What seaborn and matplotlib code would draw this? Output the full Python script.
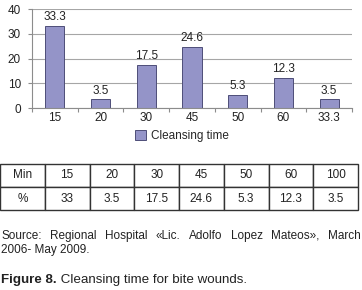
import numpy as np
import pandas as pd
import matplotlib
matplotlib.use("Agg")
import matplotlib.pyplot as plt
import seaborn as sns
from matplotlib.patches import Patch

# данные
categories = ['15', '20', '30', '45', '50', '60', '33.3']
values = [33.3, 3.5, 17.5, 24.6, 5.3, 12.3, 3.5]
table_min = ['15', '20', '30', '45', '50', '60', '100']
table_pct = ['33', '3.5', '17.5', '24.6', '5.3', '12.3', '3.5']
source_words = ['Source:', 'Regional', 'Hospital', '\u00abLic.', 'Adolfo',
                'Lopez', 'Mateos\u00bb,', 'March']

sns.set_theme(style="white")
plt.rcParams['font.family'] = ['Liberation Sans', 'DejaVu Sans']

bar_color = '#9494C8'
edge_color = '#4E4E78'
grid_color = '#A6A6A6'

fig = plt.figure(figsize=(3.62, 2.90), dpi=100)
ax = fig.add_axes([32/362, 1 - 108/290, 320/362, 99/290])

df = pd.DataFrame({'time': categories, 'pct': values})
sns.barplot(data=df, x='time', y='pct', order=categories, color=bar_color,
            edgecolor=edge_color, linewidth=0.7, width=0.42, ax=ax,
            saturation=1)

for p, v in zip(ax.patches, values):
    ax.annotate(f"{v}", (p.get_x() + p.get_width() / 2, p.get_height()),
                xytext=(0, 2), textcoords='offset points',
                ha='center', va='bottom', fontsize=8.5, color='#222222')

ax.set_ylim(0, 40)
ax.set_xlim(-0.5, len(categories) - 0.5)
ax.set_yticks([0, 10, 20, 30, 40])
ax.yaxis.grid(True, color=grid_color, linewidth=0.8)
ax.set_axisbelow(True)
ax.set_xlabel('')
ax.set_ylabel('')
for s in ['top', 'right']:
    ax.spines[s].set_visible(False)
for s in ['left', 'bottom']:
    ax.spines[s].set_color('#8C8C8C')
    ax.spines[s].set_linewidth(0.8)

ax.set_xticks(np.arange(len(categories) + 1) - 0.5, minor=True)
ax.tick_params(axis='x', which='major', length=0, labelsize=8.5, pad=3,
               labelcolor='#222222')
ax.tick_params(axis='x', which='minor', length=3, color='#8C8C8C', width=0.8,
               direction='out', bottom=True)
ax.tick_params(axis='y', length=3, color='#8C8C8C', width=0.8, left=True,
               labelsize=8.5, pad=5, labelcolor='#222222')

# легенда
handle = Patch(facecolor=bar_color, edgecolor=edge_color, linewidth=0.7)
fig.legend([handle], ['Cleansing time'], loc='center',
           bbox_to_anchor=(182/362, 1 - 136/290), frameon=False,
           fontsize=8.5, handlelength=0.9, handleheight=0.9,
           handletextpad=0.4)

# таблица
tax = fig.add_axes([0.0, 1 - 210/290, 358/362, 46/290])
tax.axis('off')
cells = [['Min'] + table_min, ['%'] + table_pct]
tbl = tax.table(cellText=cells, cellLoc='center', bbox=[0, 0, 1, 1])
tbl.auto_set_font_size(False)
tbl.set_fontsize(8.5)
for key, cell in tbl.get_celld().items():
    cell.set_edgecolor('#333333')
    cell.set_linewidth(1.0)
    cell.get_text().set_color('#222222')

# подписи: первая строка выровнена по ширине, как в оригинале
fig.canvas.draw()
renderer = fig.canvas.get_renderer()
word_texts = [fig.text(0, 1 - 236/290, w, fontsize=8.5, va='center',
                       ha='left', color='#222222') for w in source_words]
widths = [wt.get_window_extent(renderer).width for wt in word_texts]
left_px, right_px = 1, 361
gap = (right_px - left_px - sum(widths)) / (len(widths) - 1)
xpos = left_px
for wt, w in zip(word_texts, widths):
    wt.set_x(xpos / 362)
    xpos += w + gap

fig.text(1/362, 1 - 250/290, '2006- May 2009.', fontsize=8.5,
         va='center', ha='left', color='#222222')
t = fig.text(1/362, 1 - 280/290, 'Figure 8.', fontsize=9.6,
             fontweight='bold', va='center', ha='left', color='#222222')
fig.canvas.draw()
ax.annotate(' Cleansing time for bite wounds.', xy=(1, 0.5), xycoords=t,
            va='center', ha='left', fontsize=9.6, color='#222222',
            annotation_clip=False)

fig.savefig('out.png', dpi=100)
